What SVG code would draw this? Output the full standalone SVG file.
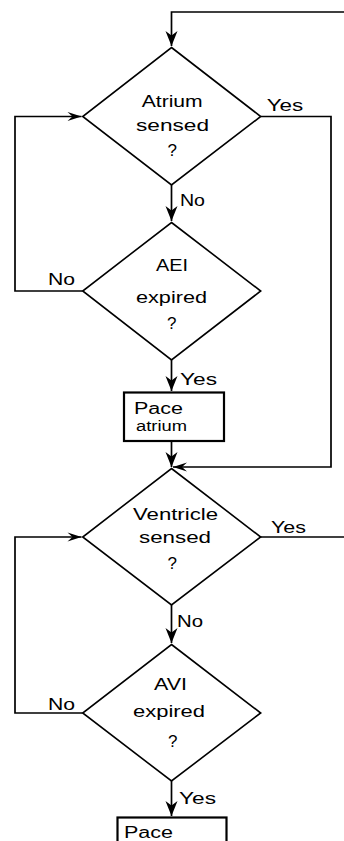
<svg xmlns="http://www.w3.org/2000/svg" width="344" height="841" viewBox="0 0 344 841">
<style>
.shape{fill:#fff;stroke:#000;stroke-width:1.6}
.box{fill:#fff;stroke:#000;stroke-width:2.2}
.ln{fill:none;stroke:#000;stroke-width:1.7}
.t{font-family:"Liberation Sans",Arial,sans-serif;font-size:17px;fill:#000}
.l{font-family:"Liberation Sans",Arial,sans-serif;font-size:16px;fill:#000}
.s{font-family:"Liberation Sans",Arial,sans-serif;font-size:14px;fill:#000}
</style>
<defs>
<marker id="ad" markerUnits="userSpaceOnUse" viewBox="-16 -7 17 14" markerWidth="17" markerHeight="14" refX="0" refY="0" orient="auto">
<path d="M0,0 L-15,-6 L-10.5,0 L-15,6 Z" fill="#000"/>
</marker>
<marker id="ah" markerUnits="userSpaceOnUse" viewBox="-15 -6 16 12" markerWidth="16" markerHeight="12" refX="0" refY="0" orient="auto">
<path d="M0,0 L-14,-4.5 L-9,0 L-14,4.5 Z" fill="#000"/>
</marker>
</defs>
<rect width="344" height="841" fill="#fff"/>
<g id="connectors">
<path class="ln" d="M344,12 H171.5 V46" marker-end="url(#ad)"/>
<path class="ln" d="M171.5,185 V221" marker-end="url(#ad)"/>
<path class="ln" d="M171.5,360 V391" marker-end="url(#ad)"/>
<path class="ln" d="M171.5,441 V467" marker-end="url(#ad)"/>
<path class="ln" d="M171.5,605 V643" marker-end="url(#ad)"/>
<path class="ln" d="M171.5,781 V816" marker-end="url(#ad)"/>
<path class="ln" d="M82.7,291 H15 V116.5 H81.5" marker-end="url(#ah)"/>
<path class="ln" d="M82.7,713 H15 V537 H81.5" marker-end="url(#ah)"/>
<path class="ln" d="M260.7,116.5 H331 V467 H173" marker-end="url(#ah)"/>
<path class="ln" d="M260.7,537 H344"/>
</g>
<g id="n1">
<polygon class="shape" points="171.5,47.5 260.7,116.5 171.5,185 82.7,116.5"/>
<text class="t" x="141.7" y="107.3" textLength="61" lengthAdjust="spacingAndGlyphs">Atrium</text>
<text class="t" x="136" y="131" textLength="73" lengthAdjust="spacingAndGlyphs">sensed</text>
<text class="t" x="167.5" y="156">?</text>
</g>
<g id="n2">
<polygon class="shape" points="171.5,222.5 260.7,291 171.5,360 82.7,291"/>
<text class="t" x="156" y="270.7" textLength="32" lengthAdjust="spacingAndGlyphs">AEI</text>
<text class="t" x="136" y="302.7" textLength="71" lengthAdjust="spacingAndGlyphs">expired</text>
<text class="t" x="167" y="329">?</text>
</g>
<g id="n3">
<rect class="box" x="124" y="392.5" width="100" height="48.5"/>
<text class="l" x="134" y="413.5" textLength="49" lengthAdjust="spacingAndGlyphs">Pace</text>
<text class="s" x="136" y="431" textLength="51" lengthAdjust="spacingAndGlyphs">atrium</text>
</g>
<g id="n4">
<polygon class="shape" points="171.5,468.5 260.7,537 171.5,605 82.7,537"/>
<text class="t" x="133" y="520" textLength="85" lengthAdjust="spacingAndGlyphs">Ventricle</text>
<text class="t" x="139" y="543.3" textLength="72" lengthAdjust="spacingAndGlyphs">sensed</text>
<text class="t" x="167.5" y="569">?</text>
</g>
<g id="n5">
<polygon class="shape" points="171.5,644.5 260.7,713 171.5,781 82.7,713"/>
<text class="t" x="154" y="690" textLength="33" lengthAdjust="spacingAndGlyphs">AVI</text>
<text class="t" x="133" y="717.3" textLength="72" lengthAdjust="spacingAndGlyphs">expired</text>
<text class="t" x="168" y="746.7">?</text>
</g>
<g id="n6">
<rect class="box" x="117.5" y="817.5" width="109" height="40"/>
<text class="l" x="124" y="837.5" textLength="49" lengthAdjust="spacingAndGlyphs">Pace</text>
</g>
<g id="labels">
<text class="l" x="266.7" y="110.7" textLength="36.6" lengthAdjust="spacingAndGlyphs">Yes</text>
<text class="l" x="180" y="205.7" textLength="25" lengthAdjust="spacingAndGlyphs">No</text>
<text class="l" x="48" y="285.3" textLength="27" lengthAdjust="spacingAndGlyphs">No</text>
<text class="l" x="180" y="385" textLength="37" lengthAdjust="spacingAndGlyphs">Yes</text>
<text class="l" x="271" y="533" textLength="35" lengthAdjust="spacingAndGlyphs">Yes</text>
<text class="l" x="177" y="626.7" textLength="26" lengthAdjust="spacingAndGlyphs">No</text>
<text class="l" x="48" y="710" textLength="27" lengthAdjust="spacingAndGlyphs">No</text>
<text class="l" x="179" y="804" textLength="37" lengthAdjust="spacingAndGlyphs">Yes</text>
</g>
</svg>
